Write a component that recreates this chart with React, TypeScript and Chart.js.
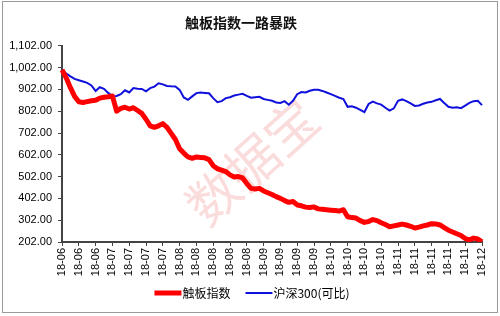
import React, { useEffect, useRef } from 'react';
import { Chart, registerables } from 'chart.js';

Chart.register(...registerables);

const TITLE = '触板指数一路暴跌';
const WATERMARK = '数据宝';
const seriesNames = ['触板指数', '沪深300(可比)'];

const tickLabels = [
  '18-06', '18-06', '18-06', '18-07', '18-07', '18-07', '18-07',
  '18-08', '18-08', '18-08', '18-08', '18-08', '18-09', '18-09',
  '18-09', '18-09', '18-10', '18-10', '18-10', '18-10', '18-11',
  '18-11', '18-11', '18-11', '18-11', '18-12',
];

const yTickValues = [202, 302, 402, 502, 602, 702, 802, 902, 1002, 1102];

const touchBoard = [
  992, 955, 910, 870, 845, 842, 846, 850, 852, 862,
  866, 868, 872, 802, 815, 820, 812, 818, 805, 792,
  765, 735, 728, 735, 745, 728, 700, 672, 630, 610,
  592, 586, 592, 590, 588, 580, 552, 538, 532, 525,
  510, 500, 502, 496, 470, 448, 445, 448, 436, 428,
  420, 410, 402, 392, 384, 388, 372, 368, 362, 360,
  363, 354, 352, 350, 348, 346, 344, 350, 318, 314,
  312, 300, 292, 296, 305, 300, 290, 282, 272, 276,
  280, 284, 280, 274, 266, 270, 276, 280, 286, 285,
  280, 268, 256, 248, 240, 232, 218, 212, 220, 216,
  203,
];

const hs300 = [
  992, 975, 962, 950, 944, 938, 932, 920, 895, 912,
  905, 886, 870, 872, 880, 898, 888, 908, 905, 904,
  893, 908, 915, 930, 925, 918, 916, 915, 900, 865,
  854, 870, 885, 888, 886, 884, 862, 843, 848, 862,
  866, 874, 878, 882, 872, 864, 866, 868, 858, 854,
  850, 842, 840, 848, 832, 850, 880, 890, 888, 896,
  900, 900, 895, 888, 880, 872, 864, 858, 822, 825,
  818, 808, 798, 835, 846, 838, 832, 818, 805, 815,
  850, 856, 848, 838, 826, 828, 836, 842, 845, 852,
  858, 840, 822, 818, 820, 816, 828, 840, 848, 850,
  830,
];

const categories = touchBoard.map((_, i) => (i % 4 === 0 ? tickLabels[i / 4] : ''));

const FONT = '"Liberation Sans", Arial, sans-serif';
const CJK = '"Noto Sans CJK SC", sans-serif';

const framePlugin = {
  id: 'frame',
  beforeDraw(chart: any) {
    const { ctx } = chart;
    ctx.save();
    ctx.fillStyle = '#ffffff';
    ctx.fillRect(0, 0, chart.width, chart.height);
    ctx.strokeStyle = '#9a9a9a';
    ctx.lineWidth = 1;
    ctx.strokeRect(2.5, 1.5, chart.width - 5, chart.height - 5);
    ctx.restore();
  },
};

const watermarkPlugin = {
  id: 'watermark',
  beforeDatasetsDraw(chart: any) {
    const { ctx, chartArea } = chart;
    ctx.save();
    ctx.translate(chartArea.left + 190, chartArea.top + 116);
    ctx.rotate((-42 * Math.PI) / 180);
    ctx.font = '52px ' + CJK;
    ctx.fillStyle = 'rgba(240,140,140,0.3)';
    ctx.textAlign = 'center';
    ctx.textBaseline = 'middle';
    ctx.fillText(WATERMARK, 0, 0);
    ctx.restore();
  },
};

const legendPlugin = {
  id: 'customLegend',
  afterDraw(chart: any) {
    const { ctx } = chart;
    const items = chart.data.datasets;
    const lineW = 27;
    const gapLine = 1;
    const gapItem = 15;
    ctx.save();
    ctx.font = '12px ' + CJK;
    const widths = items.map((d: any) => lineW + gapLine + ctx.measureText(d.label).width);
    const total = widths.reduce((a: number, b: number) => a + b, 0) + gapItem * (items.length - 1);
    let x = chart.width / 2 + 2 - total / 2;
    const y = 293;
    items.forEach((d: any, i: number) => {
      ctx.strokeStyle = d.borderColor;
      ctx.lineWidth = d.borderWidth;
      ctx.beginPath();
      ctx.moveTo(x, y);
      ctx.lineTo(x + lineW, y);
      ctx.stroke();
      ctx.fillStyle = '#000';
      ctx.textBaseline = 'middle';
      ctx.textAlign = 'left';
      ctx.fillText(d.label, x + lineW + gapLine, y);
      x += widths[i] + gapItem;
    });
    ctx.restore();
  },
};

export default function App() {
  const ref = useRef<HTMLCanvasElement | null>(null);

  useEffect(() => {
    if (!ref.current) return;
    const chart = new Chart(ref.current, {
      type: 'line',
      data: {
        labels: categories,
        datasets: [
          {
            label: seriesNames[0],
            data: touchBoard,
            borderColor: '#ff0000',
            backgroundColor: '#ff0000',
            borderWidth: 5,
            pointRadius: 0,
            tension: 0,
            borderJoinStyle: 'round',
          },
          {
            label: seriesNames[1],
            data: hs300,
            borderColor: '#1010dd',
            backgroundColor: '#1010dd',
            borderWidth: 2,
            pointRadius: 0,
            tension: 0,
          },
        ],
      },
      options: {
        animation: false,
        responsive: false,
        maintainAspectRatio: false,
        layout: { padding: { left: 0, right: 18, top: 0, bottom: 34 } },
        plugins: {
          legend: { display: false },
          tooltip: { enabled: false },
          title: {
            display: true,
            text: TITLE,
            color: '#111',
            font: { family: CJK, size: 14, weight: 'bold' },
            padding: { top: 14, bottom: 15 },
          },
        },
        scales: {
          x: {
            type: 'category',
            offset: false,
            afterFit(scale: any) {
              scale.height = 40;
            },
            grid: {
              display: true,
              drawOnChartArea: false,
              drawTicks: true,
              tickLength: 4,
              color: '#444',
            },
            border: { display: true, color: '#444', width: 2 },
            ticks: {
              autoSkip: false,
              maxRotation: 90,
              minRotation: 90,
              padding: 2,
              color: '#000',
              font: { family: FONT, size: 11 },
              callback(this: any, value: any) {
                const lab = this.getLabelForValue(value);
                return lab === '' ? null : lab;
              },
            },
          },
          y: {
            min: 202,
            max: 1102,
            afterFit(scale: any) {
              scale.width = 62;
            },
            afterBuildTicks(scale: any) {
              scale.ticks = yTickValues.map((v) => ({ value: v }));
            },
            grid: {
              display: true,
              drawOnChartArea: false,
              drawTicks: true,
              tickLength: 4,
              color: '#444',
            },
            border: { display: true, color: '#444', width: 2 },
            ticks: {
              padding: 6,
              color: '#000',
              font: { family: FONT, size: 11 },
              callback(value: any) {
                return Number(value).toLocaleString('en-US', {
                  minimumFractionDigits: 2,
                  maximumFractionDigits: 2,
                });
              },
            },
          },
        },
      },
      plugins: [framePlugin, watermarkPlugin, legendPlugin],
    } as any);
    return () => chart.destroy();
  }, []);

  return (
    <div style={{ position: 'fixed', left: 0, top: 0, width: 500, height: 316, background: '#fff' }}>
      <canvas ref={ref} width={500} height={316} style={{ width: 500, height: 316, display: 'block' }} />
    </div>
  );
}
